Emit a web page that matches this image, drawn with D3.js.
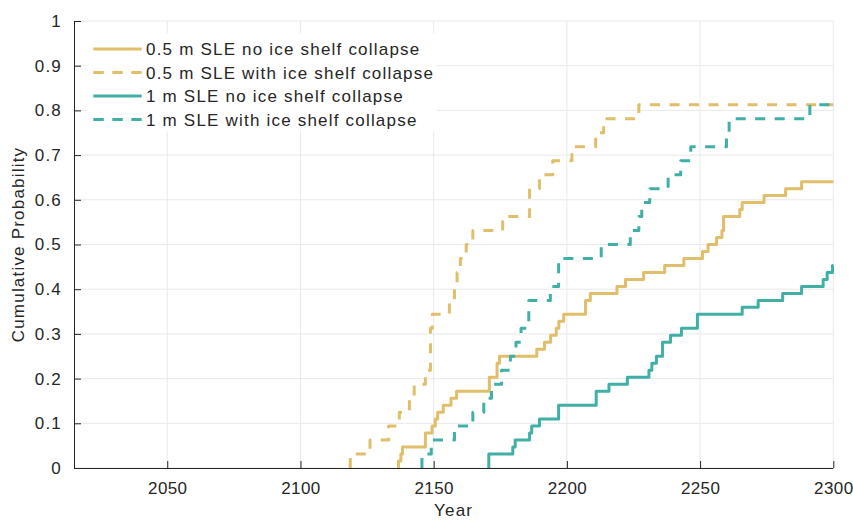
<!DOCTYPE html>
<html>
<head>
<meta charset="utf-8">
<script src="https://cdn.jsdelivr.net/npm/d3@7"></script>
<style>
  body { margin: 0; background: #fff; }
  svg { display: block; }
  text { font-family: "Liberation Sans", Arial, Helvetica, sans-serif; fill: #262626; }
</style>
</head>
<body>
<svg id="chart" width="853" height="520"></svg>
<script>
// ---- data ----
const xTicks = [2050, 2100, 2150, 2200, 2250, 2300];
const yTicks = [0, 0.1, 0.2, 0.3, 0.4, 0.5, 0.6, 0.7, 0.8, 0.9, 1];
const yTickLabels = ["0", "0.1", "0.2", "0.3", "0.4", "0.5", "0.6", "0.7", "0.8", "0.9", "1"];

const seriesNames = [
  "0.5 m SLE no ice shelf collapse",
  "0.5 m SLE with ice shelf collapse",
  "1 m SLE no ice shelf collapse",
  "1 m SLE with ice shelf collapse"
];
const seriesColors = ["#E1BE6A", "#E1BE6A", "#40B0A6", "#40B0A6"];
const seriesDashed = [false, true, false, true];

// 0.5 m SLE, no ice shelf collapse
const years05NoCollapse = [2136.8, 2137.7, 2138.3, 2146.9, 2149.4, 2150.6, 2151.5, 2153.6, 2156.5, 2158.6,
  2170.9, 2173.8, 2174.7, 2188.7, 2191.6, 2193.9, 2196.0, 2197.0, 2198.8, 2207.0,
  2208.8, 2218.8, 2222.0, 2228.8, 2236.7, 2243.9, 2250.9, 2253.0, 2256.2, 2258.2,
  2258.8, 2264.9, 2265.8, 2274.0, 2282.1, 2288.1];
const prob05NoCollapse = [0.0156, 0.0313, 0.0469, 0.0781, 0.0938, 0.1094, 0.125, 0.1406, 0.1563, 0.1719,
  0.2031, 0.2344, 0.25, 0.2656, 0.2813, 0.2969, 0.3125, 0.3281, 0.3438, 0.375,
  0.3906, 0.4063, 0.4219, 0.4375, 0.4531, 0.4688, 0.4844, 0.5, 0.5156, 0.5313,
  0.5625, 0.5781, 0.5938, 0.6094, 0.625, 0.6406];

// 0.5 m SLE, with ice shelf collapse
const years05Collapse = [2118.7, 2126.1, 2133.1, 2137.1, 2140.9, 2142.7, 2146.9, 2148.8, 2149.5, 2155.9,
  2157.8, 2158.8, 2160.0, 2162.2, 2164.7, 2175.9, 2186.0, 2189.7, 2194.7, 2201.9,
  2210.8, 2213.8, 2227.0];
const prob05Collapse = [0.0313, 0.0625, 0.0938, 0.125, 0.1563, 0.1875, 0.2188, 0.3125, 0.3438, 0.375,
  0.4063, 0.4375, 0.4688, 0.5, 0.5313, 0.5625, 0.625, 0.6563, 0.6875, 0.7188,
  0.75, 0.7813, 0.8125];

// 1 m SLE, no ice shelf collapse
const years1NoCollapse = [2170.7, 2179.7, 2180.6, 2186.0, 2186.8, 2189.7, 2196.9, 2211.0, 2215.8, 2222.7,
  2230.8, 2231.9, 2233.6, 2235.9, 2238.9, 2243.0, 2249.0, 2265.8, 2271.8, 2281.0,
  2288.1, 2296.2, 2297.7, 2299.7];
const prob1NoCollapse = [0.0313, 0.0469, 0.0625, 0.0781, 0.0938, 0.1094, 0.1406, 0.1719, 0.1875, 0.2031,
  0.2188, 0.2344, 0.25, 0.2813, 0.2969, 0.3125, 0.3438, 0.3594, 0.375, 0.3906,
  0.4063, 0.4219, 0.4375, 0.4531];

// 1 m SLE, with ice shelf collapse
const years1Collapse = [2145.6, 2149.1, 2157.8, 2164.7, 2168.8, 2171.7, 2175.5, 2178.8, 2180.9, 2182.8,
  2185.7, 2193.8, 2196.9, 2212.9, 2223.8, 2227.0, 2228.1, 2231.1, 2238.0, 2242.7,
  2246.5, 2259.9, 2260.9, 2291.2];
const prob1Collapse = [0.0313, 0.0625, 0.0938, 0.125, 0.1563, 0.1875, 0.2188, 0.25, 0.2813, 0.3125,
  0.375, 0.4063, 0.4688, 0.5, 0.5313, 0.5625, 0.5938, 0.625, 0.6563, 0.6875,
  0.7188, 0.75, 0.7813, 0.8125];

const seriesYears = [years05NoCollapse, years05Collapse, years1NoCollapse, years1Collapse];
const seriesProbs = [prob05NoCollapse, prob05Collapse, prob1NoCollapse, prob1Collapse];

const xDomain = [2015, 2300];
const yDomain = [0, 1];

// ---- layout ----
const plot = { left: 74, right: 833.3, top: 21, bottom: 468 };
const svg = d3.select("#chart");
const x = d3.scaleLinear().domain(xDomain).range([plot.left, plot.right]);
const y = d3.scaleLinear().domain(yDomain).range([plot.bottom, plot.top]);
const textColor = "#262626";
const fontSize = 17;
const letterSp = "1.2px";

// gridlines
const grid = svg.append("g");
grid.selectAll("line.gx").data(xTicks).enter().append("line")
  .attr("x1", d => x(d)).attr("x2", d => x(d))
  .attr("y1", plot.top).attr("y2", plot.bottom)
  .attr("stroke", "#e9e9e9").attr("stroke-width", 1);
grid.selectAll("line.gy").data(yTicks).enter().append("line")
  .attr("x1", plot.left).attr("x2", plot.right)
  .attr("y1", d => y(d)).attr("y2", d => y(d))
  .attr("stroke", "#e9e9e9").attr("stroke-width", 1);

// lines
const lineGen = d3.line().x(d => x(d[0])).y(d => y(d[1])).curve(d3.curveStepAfter);
seriesYears.forEach((yrs, i) => {
  const probs = seriesProbs[i];
  const pts = [[yrs[0], 0]];
  yrs.forEach((yr, j) => pts.push([yr, probs[j]]));
  pts.push([xDomain[1], probs[probs.length - 1]]);
  svg.append("path")
    .datum(pts)
    .attr("d", lineGen)
    .attr("fill", "none")
    .attr("stroke", seriesColors[i])
    .attr("stroke-width", 3)
    .attr("stroke-linejoin", "round")
    .attr("stroke-dasharray", seriesDashed[i] ? "10,9.5" : null);
});

// axes
const xAxis = d3.axisBottom(x).tickValues(xTicks).tickFormat(d3.format("d")).tickSizeInner(-7).tickSizeOuter(0).tickPadding(14);
const gx = svg.append("g").attr("transform", `translate(0,${plot.bottom})`).call(xAxis);
const yAxis = d3.axisLeft(y).tickValues(yTicks).tickFormat((d, i) => yTickLabels[i]).tickSizeInner(-7).tickSizeOuter(0).tickPadding(12);
const gy = svg.append("g").attr("transform", `translate(${plot.left},0)`).call(yAxis);
[gx, gy].forEach(g => {
  g.select(".domain").attr("stroke", textColor).attr("stroke-width", 1);
  g.selectAll(".tick line").attr("stroke", textColor).attr("stroke-width", 1);
  g.selectAll(".tick text").attr("fill", textColor)
    .style("font-family", '"Liberation Sans", Arial, sans-serif')
    .style("font-size", fontSize + "px").style("letter-spacing", letterSp);
});
gx.selectAll(".tick text").style("letter-spacing", "0.4px");
gx.select(".domain").attr("d", `M${plot.left},0.5H${plot.right}`);
gy.select(".domain").attr("d", `M0.5,${plot.bottom}V${plot.top}`);
gx.selectAll(".tick text").attr("dy", "0.71em");

// axis titles
svg.append("text").attr("x", (plot.left + plot.right) / 2).attr("y", 516)
  .attr("text-anchor", "middle").style("font-size", fontSize + "px").style("letter-spacing", letterSp)
  .text("Year");
svg.append("text").attr("transform", `translate(24,${(plot.top + plot.bottom) / 2}) rotate(-90)`)
  .attr("text-anchor", "middle").style("font-size", fontSize + "px").style("letter-spacing", letterSp)
  .text("Cumulative Probability");

// legend
const legend = svg.append("g");
legend.append("rect").attr("x", 87.5).attr("y", 33.5).attr("width", 349).attr("height", 98)
  .attr("fill", "#fff").attr("stroke", "none");
const rowY = [49, 72.5, 96, 119.5];
seriesNames.forEach((name, i) => {
  legend.append("line").attr("x1", 93.3).attr("x2", 141.7).attr("y1", rowY[i]).attr("y2", rowY[i])
    .attr("stroke", seriesColors[i]).attr("stroke-width", 3)
    .attr("stroke-dasharray", seriesDashed[i] ? "10.5,8.5" : null);
  legend.append("text").attr("x", 146).attr("y", rowY[i]).attr("dy", "0.36em")
    .style("font-size", fontSize + "px").style("letter-spacing", letterSp)
    .text(name);
});
</script>
</body>
</html>
